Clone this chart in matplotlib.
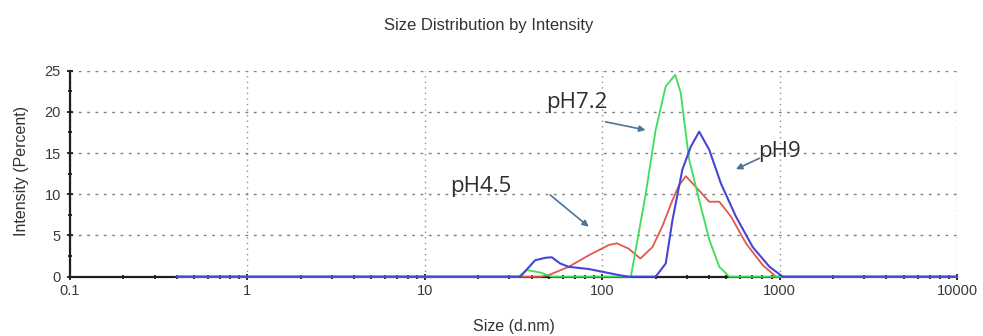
import matplotlib
matplotlib.use("Agg")
import matplotlib.pyplot as plt
from matplotlib.ticker import LogLocator, MultipleLocator, FixedLocator, FixedFormatter, NullFormatter

# ---- data ----
size_ph45 = [0.4, 45, 50, 64.7, 84, 109, 121, 141, 164, 192, 218, 249, 271, 296, 337,
             401, 457, 532, 646, 803, 955, 10000]
int_ph45 = [0, 0, 0.2, 1.2, 2.6, 3.85, 4.05, 3.4, 2.2, 3.6, 6.1, 9.3, 11.1, 12.2, 10.9,
            9.1, 9.1, 7.3, 4.05, 1.4, 0, 0]

size_ph72 = [0.4, 30, 33.7, 37.6, 45, 52, 145, 176, 200, 228, 258, 277, 309, 352, 401,
             457, 520, 10000]
int_ph72 = [0, 0, 0, 0.8, 0.5, 0, 0, 10.1, 17.8, 23.1, 24.5, 22.3, 14.2, 9.3, 4.5,
            1.2, 0, 0]

size_ph9 = [0.4, 30, 34.5, 41.9, 48, 52, 58, 64.7, 84, 100, 124, 141, 200, 228, 249,
            283, 316, 352, 401, 467, 567, 705, 877, 1042, 10000]
int_ph9 = [0, 0, 0, 2.0, 2.3, 2.35, 1.6, 1.2, 0.93, 0.6, 0.2, 0, 0, 1.6, 6.9,
           13.0, 15.8, 17.6, 15.4, 11.3, 7.3, 3.6, 1.2, 0, 0]

x_ticks = [0.1, 1, 10, 100, 1000, 10000]
x_tick_labels = ["0.1", "1", "10", "100", "1000", "10000"]
y_ticks = [0, 5, 10, 15, 20, 25]
y_tick_labels = ["0", "5", "10", "15", "20", "25"]

labels = ["pH7.2", "pH4.5", "pH9"]
label_pos = [(72.1, 21.15), (20.7, 11.0), (1000, 15.2)]
arrow_tail = [(104.2, 18.8), (50.9, 9.92), (769, 14.37)]
arrow_tip = [(175.4, 17.8), (83.9, 6.07), (567, 13.04)]

title = "Size Distribution by Intensity"
xlabel = "Size (d.nm)"
ylabel = "Intensity (Percent)"

# ---- figure ----
plt.rcParams['font.family'] = ['Liberation Sans', 'DejaVu Sans']
fig = plt.figure(figsize=(9.83, 3.36), dpi=100)
ax = fig.add_axes([0.0712, 0.1765, 0.9024, 0.6131])

ax.set_xscale('log')
ax.set_xlim(0.1, 10000)
ax.set_ylim(0, 25)

ax.plot(size_ph45, int_ph45, color='#e2574f', lw=1.3, zorder=5, clip_on=False)
ax.plot(size_ph72, int_ph72, color='#3fdc5a', lw=1.3, zorder=5, clip_on=False)
ax.plot(size_ph9, int_ph9, color='#4646d6', lw=1.5, zorder=6, clip_on=False)

for sp in ['top', 'right']:
    ax.spines[sp].set_visible(False)
for sp in ['left', 'bottom']:
    ax.spines[sp].set_color('#1e1e1e')
    ax.spines[sp].set_linewidth(1.6)
    ax.spines[sp].set_zorder(3)

ax.xaxis.set_major_locator(FixedLocator(x_ticks))
ax.xaxis.set_major_formatter(FixedFormatter(x_tick_labels))
ax.xaxis.set_minor_locator(LogLocator(base=10, subs=range(2, 10)))
ax.xaxis.set_minor_formatter(NullFormatter())
ax.yaxis.set_major_locator(FixedLocator(y_ticks))
ax.yaxis.set_major_formatter(FixedFormatter(y_tick_labels))
ax.yaxis.set_minor_locator(MultipleLocator(2.5))

ax.tick_params(axis='both', which='major', direction='inout', length=5, width=1.3,
               color='#1e1e1e', labelsize=10.5, labelcolor='#3a3a3a')
ax.tick_params(axis='both', which='minor', direction='inout', length=3.5, width=1.3,
               color='#1e1e1e')
ax.tick_params(axis='x', which='major', pad=3)
ax.tick_params(axis='y', which='major', pad=4)

ax.grid(True, which='major', axis='y', color='#808080', lw=1.0, linestyle=(0, (2, 4)))
ax.grid(True, which='major', axis='x', color='#909090', lw=1.0, linestyle=(0, (1, 3)))

for lab, (tx, ty), tail, tip in zip(labels, label_pos, arrow_tail, arrow_tip):
    ax.annotate('', xy=tip, xytext=tail,
                arrowprops=dict(arrowstyle='-|>', color='#4d7399', lw=1.2,
                                mutation_scale=9, shrinkA=0, shrinkB=0),
                zorder=7)
    ax.text(tx, ty, lab, ha='center', va='center', fontsize=16, color='#2e2e2e',
            family=['Open Sans', 'DejaVu Sans'], zorder=8)

fig.text(0.497, 0.924, title, ha='center', va='center', fontsize=12, color='#333333')
fig.text(0.523, 0.027, xlabel, ha='center', va='center', fontsize=11.5, color='#333333')
fig.text(0.022, 0.49, ylabel, ha='center', va='center', rotation=90, fontsize=11.5,
         color='#333333')

fig.savefig('out.png', dpi=100)
